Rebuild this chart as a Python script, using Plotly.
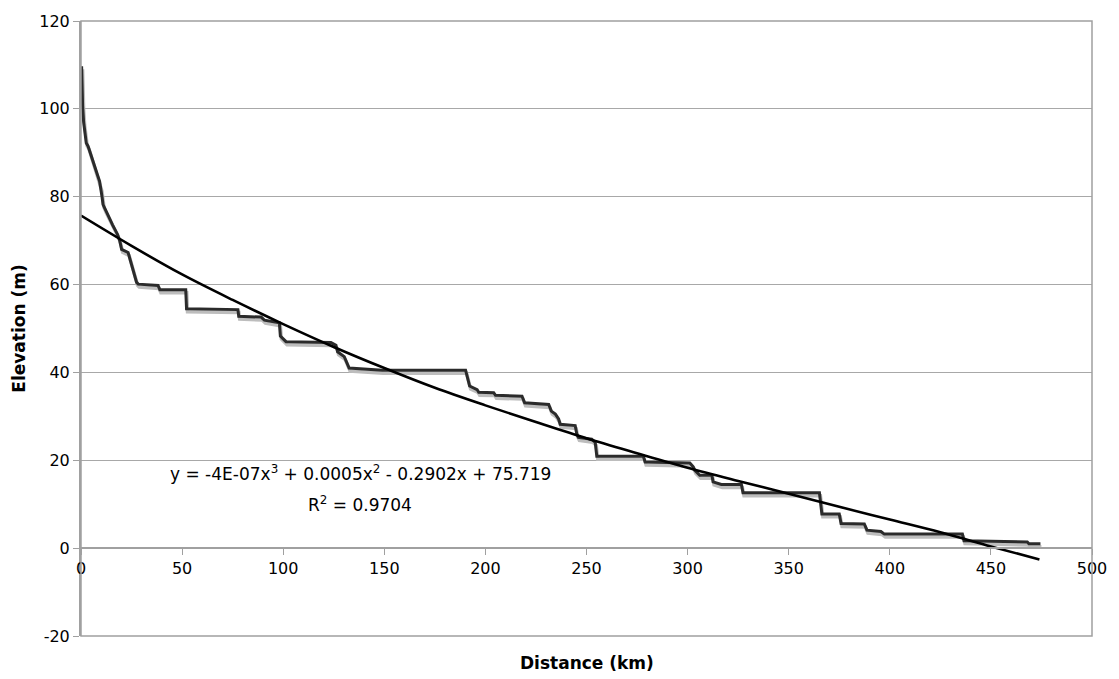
import plotly.graph_objects as go

# Longitudinal river profile
distance_km = [0.3, 0.5, 0.8, 1.3, 1.8, 2.6, 3.5, 4.5, 5.8, 6.8, 8.2, 9.2, 9.9, 10.4, 10.9,
               12.0, 13.2, 14.4, 15.6, 16.9, 18.1, 19.2, 20.1, 23.3, 25.0, 27.5, 28.3, 38.1,
               39.0, 51.8, 52.2, 77.6, 78.0, 89.1, 90.7, 98.1, 98.6, 101.4, 123.6, 126.1,
               126.9, 130.2, 132.6, 139.2, 149.0, 190.2, 191.2, 192.2, 195.9, 196.7, 204.1,
               205.0, 218.1, 219.4, 231.3, 232.6, 234.6, 236.2, 237.0, 244.4, 245.2, 246.0,
               252.6, 254.3, 255.1, 278.1, 279.0, 301.1, 302.8, 303.6, 306.0, 312.0, 312.6,
               316.7, 326.6, 327.4, 365.2, 366.4, 375.0, 375.9, 387.4, 388.7, 395.6, 397.3,
               435.9, 436.7, 468.0, 468.8, 474.5]
elevation_m = [109.7, 105.0, 100.7, 97.0, 94.5, 92.2, 91.5, 90.0, 88.3, 86.5, 84.9, 83.5, 81.9,
               80.0, 78.2, 77.0, 75.9, 74.8, 73.6, 72.5, 71.4, 69.9, 68.0, 67.3, 64.6, 60.5,
               60.1, 59.8, 58.8, 58.8, 54.5, 54.3, 52.8, 52.6, 51.9, 51.3, 48.3, 47.0, 46.8,
               46.2, 44.7, 43.6, 41.0, 40.8, 40.5, 40.5, 38.5, 36.9, 36.1, 35.5, 35.4, 34.8,
               34.6, 33.1, 32.7, 31.2, 30.5, 29.4, 28.2, 27.9, 26.0, 25.2, 24.8, 24.1, 20.9,
               20.9, 19.6, 19.4, 18.5, 17.7, 16.6, 16.6, 15.1, 14.5, 14.5, 12.6, 12.6, 7.8,
               7.8, 5.6, 5.5, 4.1, 3.8, 3.2, 3.2, 1.7, 1.4, 1.0, 1.0]

# Polynomial trendline as drawn in the picture
trend_x = [0, 25, 50, 75, 100, 125, 150, 175, 200, 225, 250, 275, 300, 325, 350, 375, 400,
           425, 450, 474]
trend_y = [75.7, 68.8, 62.3, 56.5, 51.0, 45.8, 41.0, 36.5, 32.5, 28.7, 25.0, 21.6, 18.3,
           15.3, 12.4, 9.4, 6.5, 3.6, 0.4, -2.6]

x_ticks = [0, 50, 100, 150, 200, 250, 300, 350, 400, 450, 500]
y_ticks = [-20, 0, 20, 40, 60, 80, 100, 120]

equation_text = "y = -4E-07x<sup>3</sup> + 0.0005x<sup>2</sup> - 0.2902x + 75.719"
r2_text = "R<sup>2</sup> = 0.9704"

Y_MIN, Y_MAX = -20, 120
X_MIN, X_MAX = 0, 500

FONT = "DejaVu Sans"

# shadow offset (about 1px right, 3px down)
plot_w, plot_h = 1014, 622
sx = (X_MAX - X_MIN) / plot_w * 1.0
sy = (Y_MAX - Y_MIN) / plot_h * 3.0

fig = go.Figure()
fig.add_trace(go.Scatter(
    x=[v + sx for v in distance_km], y=[v - sy for v in elevation_m],
    mode="lines", line=dict(color="#bdbdbd", width=3.5), hoverinfo="skip",
    showlegend=False))
fig.add_trace(go.Scatter(
    x=distance_km, y=elevation_m, mode="lines",
    line=dict(color="#2b2b2b", width=3), showlegend=False))
fig.add_trace(go.Scatter(
    x=trend_x, y=trend_y, mode="lines",
    line=dict(color="#000000", width=2.6, shape="spline", smoothing=1.0),
    showlegend=False))

fig.update_layout(
    width=1119, height=679,
    margin=dict(l=81, r=24, t=14, b=43),
    paper_bgcolor="white", plot_bgcolor="white",
    font=dict(family=FONT, size=16, color="#000"),
    showlegend=False,
    xaxis=dict(
        range=[X_MIN, X_MAX], tickvals=x_ticks, ticktext=[str(v) for v in x_ticks],
        anchor="free", position=(0 - Y_MIN) / (Y_MAX - Y_MIN),
        showline=True, linecolor="#a0a0a0", linewidth=1.5,
        ticks="outside", ticklen=6, tickcolor="#a0a0a0", tickwidth=1,
        showgrid=False, zeroline=False,
        tickfont=dict(family=FONT, size=16, color="#000"),
    ),
    yaxis=dict(
        range=[Y_MIN, Y_MAX], tickvals=y_ticks, ticktext=[str(v) for v in y_ticks],
        showline=True, linecolor="#a0a0a0", linewidth=2,
        ticks="outside", ticklen=6, tickcolor="#a0a0a0", tickwidth=1,
        showgrid=True, gridcolor="#a8a8a8", gridwidth=1, zeroline=False,
        tickfont=dict(family=FONT, size=16, color="#000"),
    ),
    shapes=[dict(type="rect", xref="paper", yref="paper", x0=0, x1=1, y0=0, y1=1,
                 line=dict(color="#a0a0a0", width=1.5), layer="above")],
    annotations=[
        dict(text=equation_text, x=138, y=17.0, xref="x", yref="y", showarrow=False,
             font=dict(family=FONT, size=17, color="#000"), xanchor="center", yanchor="middle"),
        dict(text=r2_text, x=138, y=10.0, xref="x", yref="y", showarrow=False,
             font=dict(family=FONT, size=17, color="#000"), xanchor="center", yanchor="middle"),
        dict(text="<b>Distance (km)</b>", x=0.5, y=-27 / 622, xref="paper", yref="paper",
             showarrow=False, font=dict(family=FONT, size=17, color="#000"),
             xanchor="center", yanchor="middle"),
        dict(text="<b>Elevation (m)</b>", x=-63 / 1014, y=0.5, xref="paper", yref="paper",
             showarrow=False, textangle=-90, font=dict(family=FONT, size=17, color="#000"),
             xanchor="center", yanchor="middle"),
    ],
)

fig.write_html("out.html")
